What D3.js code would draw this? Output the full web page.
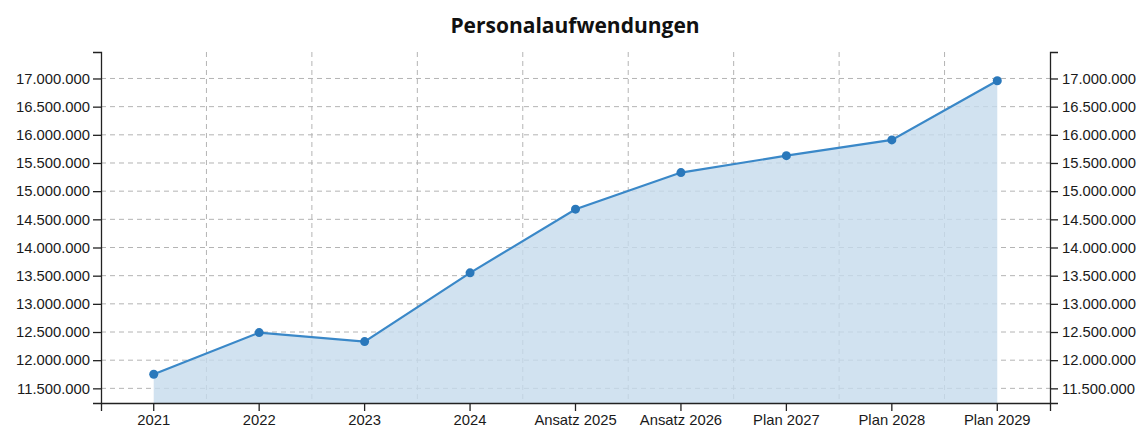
<!DOCTYPE html>
<html>
<head>
<meta charset="utf-8">
<script src="https://cdn.jsdelivr.net/npm/d3@7"></script>
<style>
  body { margin: 0; background: #fff; }
  svg { display: block; font-family: "Open Sans", "Noto Sans", sans-serif; }
  .axis text { font-size: 14.8px; fill: #1a1a1a; }
  .axis path, .axis line { stroke: #222; stroke-width: 1.3; }
  .grid line { stroke: #b4b4b4; stroke-width: 1; stroke-dasharray: 5,4; }
</style>
</head>
<body>
<svg width="1142" height="429"></svg>
<script>
// Kategorien und Werte
var categories = ["2021", "2022", "2023", "2024", "Ansatz 2025", "Ansatz 2026", "Plan 2027", "Plan 2028", "Plan 2029"];
var values = [11750000, 12490000, 12330000, 13550000, 14680000, 15330000, 15630000, 15910000, 16960000];
var yTicks = [11500000, 12000000, 12500000, 13000000, 13500000, 14000000, 14500000, 15000000, 15500000, 16000000, 16500000, 17000000];
var title = "Personalaufwendungen";

var svg = d3.select("svg"),
    margin = {top: 52, right: 92, bottom: 26, left: 101},
    width = +svg.attr("width"),
    height = +svg.attr("height"),
    pLeft = margin.left,
    pRight = width - margin.right,
    pTop = margin.top,
    pBottom = height - margin.bottom;

var locale = d3.formatLocale({decimal: ",", thousands: ".", grouping: [3], currency: ["", " €"]});
var fmt = locale.format(",d");

var data = categories.map(function(c, i) { return {cat: c, value: values[i]}; });

var x = d3.scaleBand().domain(categories).range([pLeft, pRight]).padding(0);
var y = d3.scaleLinear().domain([11240000, 17470000]).range([pBottom, pTop]);
var cx = function(d) { return x(d.cat) + x.bandwidth() / 2; };

// Gitterlinien
var grid = svg.append("g").attr("class", "grid");
grid.selectAll(".h").data(yTicks).enter().append("line")
    .attr("x1", pLeft).attr("x2", pRight)
    .attr("y1", function(d) { return y(d); }).attr("y2", function(d) { return y(d); });
grid.selectAll(".v").data(categories.slice(1)).enter().append("line")
    .attr("x1", function(d) { return x(d); }).attr("x2", function(d) { return x(d); })
    .attr("y1", pTop).attr("y2", pBottom);

// Fläche
var area = d3.area().x(cx).y0(pBottom).y1(function(d) { return y(d.value); });
svg.append("path").datum(data).attr("d", area).attr("fill", "#c6dbec").attr("opacity", 0.8);

// Linie
var line = d3.line().x(cx).y(function(d) { return y(d.value); });
svg.append("path").datum(data).attr("d", line)
    .attr("fill", "none").attr("stroke", "#3a88c8").attr("stroke-width", 2.2);

svg.append("g").selectAll("circle").data(data).enter().append("circle")
    .attr("cx", cx).attr("cy", function(d) { return y(d.value); })
    .attr("r", 4.5).attr("fill", "#2a78bb");

// Achsen
svg.append("g").attr("class", "axis")
    .attr("transform", "translate(0," + pBottom + ")")
    .call(d3.axisBottom(x).tickSize(8).tickSizeOuter(8).tickPadding(3));

svg.append("g").attr("class", "axis")
    .attr("transform", "translate(" + pLeft + ",0)")
    .call(d3.axisLeft(y).tickValues(yTicks).tickFormat(fmt).tickSize(8).tickSizeOuter(8).tickPadding(3));

svg.append("g").attr("class", "axis")
    .attr("transform", "translate(" + pRight + ",0)")
    .call(d3.axisRight(y).tickValues(yTicks).tickFormat(fmt).tickSize(8).tickSizeOuter(8).tickPadding(4));

svg.append("text")
    .attr("x", 575).attr("y", 33)
    .attr("text-anchor", "middle")
    .attr("font-size", "21px").attr("font-weight", "bold").attr("fill", "#111")
    .text(title);
</script>
</body>
</html>
